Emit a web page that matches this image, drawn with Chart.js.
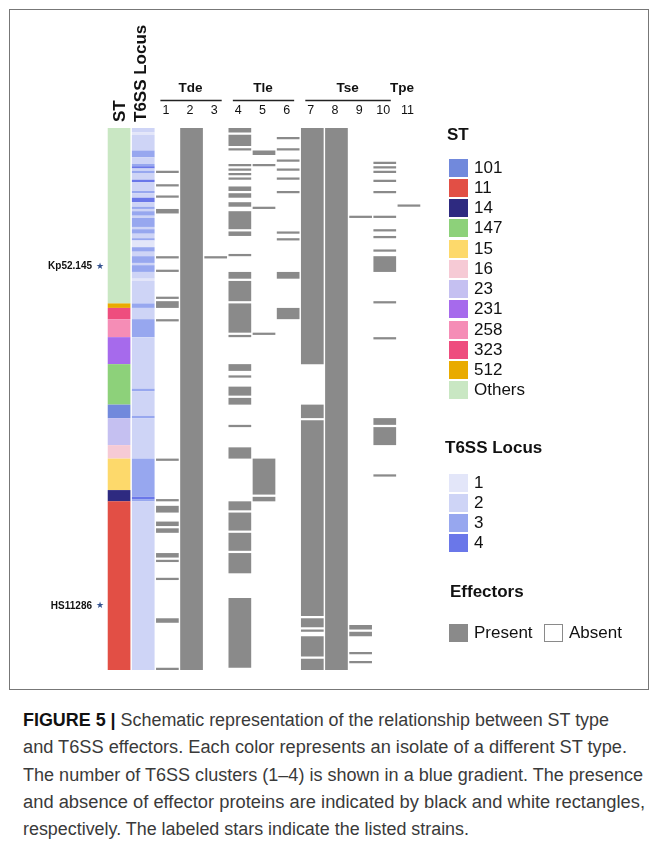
<!DOCTYPE html>
<html>
<head>
<meta charset="utf-8">
<script src="https://cdn.jsdelivr.net/npm/chart.js@4.4.1/dist/chart.umd.min.js"></script>
<style>
  html, body { margin: 0; padding: 0; background: #fff; }
  body { width: 657px; height: 841px; position: relative; overflow: hidden;
         font-family: "Liberation Sans", Arial, Helvetica, sans-serif; color: #111; }
  #frame { position: absolute; left: 9px; top: 9px; width: 640px; height: 681px;
           border: 1px solid #777; box-sizing: border-box; }
  #plot { position: absolute; left: 0; top: 0; }
  .lg-title { position: absolute; font-weight: bold; font-size: 17px; line-height: 20px; white-space: nowrap; }
  .lg-item { position: absolute; height: 19px; display: flex; align-items: center; white-space: nowrap; font-size: 17px; }
  .lg-sw { width: 19px; height: 18px; margin-right: 6px; box-sizing: border-box; flex: none; }
  #caption { position: absolute; left: 23px; top: 707px; font-size: 18px; line-height: 27.3px; color: #3a3a3a;
             font-family: "Liberation Sans Narrow", "Liberation Sans", Arial, sans-serif; }
  .cap-line { display: block; white-space: nowrap; width: max-content; transform-origin: 0 0; }
  .cap-line b { color: #111; }
</style>
</head>
<body>
<div id="frame"></div>
<canvas id="plot" width="657" height="690"></canvas>
<div id="legend"></div>
<div id="caption">
  <span class="cap-line" data-w="586"><b>FIGURE 5 |</b> Schematic representation of the relationship between ST type</span>
  <span class="cap-line" data-w="604">and T6SS effectors. Each color represents an isolate of a different ST type.</span>
  <span class="cap-line" data-w="620">The number of T6SS clusters (1–4) is shown in a blue gradient. The presence</span>
  <span class="cap-line" data-w="622">and absence of effector proteins are indicated by black and white rectangles,</span>
  <span class="cap-line" data-w="446">respectively. The labeled stars indicate the listed strains.</span>
</div>
<script>
// ---- heatmap columns and isolates (rows ordered top to bottom) ----
const columns = ['ST', 'T6SS Locus', '1', '2', '3', '4', '5', '6', '7', '8', '9', '10', '11'];
const isolateCount = 241;

// effector families spanning the numbered columns
const groupNames = ['Tde', 'Tle', 'Tse', 'Tpe'];
const groupFirst = ['1', '4', '7', '11'];
const groupLast  = ['3', '6', '10', '11'];

// sequence types
const stTypes  = ['101', '11', '14', '147', '15', '16', '23', '231', '258', '323', '512', 'Others'];
const stColors = ['#7189dc', '#e24f45', '#2e2a80', '#8dd17a', '#fdd96b', '#f6cad5',
                  '#c5c0f1', '#a66aec', '#f58db6', '#ee4d7e', '#e9ab00', '#c9e7c3'];
// [ST, first row, end row)
const stRuns = [
  ['Others', 0, 78], ['512', 78, 80], ['323', 80, 85], ['258', 85, 93], ['231', 93, 105],
  ['147', 105, 123], ['101', 123, 129], ['23', 129, 141], ['16', 141, 147], ['15', 147, 161],
  ['14', 161, 166], ['11', 166, 241]
];

// number of T6SS loci per isolate
const locusLevels = ['1', '2', '3', '4'];
const locusColors = ['#e3e6f9', '#ced4f6', '#97a7ef', '#6a77e9'];
// [first row, end row, loci]
const locusRuns = [
  [0, 2, 2], [2, 3, 1], [3, 10, 2], [10, 13, 3], [13, 16, 2], [16, 17, 3], [17, 18, 4], [18, 19, 2],
  [19, 20, 3], [20, 23, 2], [23, 24, 4], [24, 28, 2], [28, 29, 3], [29, 31, 2], [31, 33, 4], [33, 35, 2],
  [35, 36, 3], [36, 37, 2], [37, 39, 3], [39, 40, 2], [40, 44, 3], [44, 45, 2], [45, 47, 3], [47, 49, 2],
  [49, 50, 3], [50, 53, 1], [53, 55, 3], [55, 57, 2], [57, 60, 3], [60, 61, 2], [61, 64, 3], [64, 67, 2],
  [67, 68, 1], [68, 78, 2], [78, 80, 3], [80, 85, 2], [85, 93, 3], [93, 116, 2], [116, 117, 3],
  [117, 128, 2], [128, 129, 3], [129, 147, 2], [147, 164, 3], [164, 165, 4], [165, 166, 3], [166, 241, 2]
];

// effector presence, [first row, end row) for each numbered column
const eff1 = [[19, 20], [25, 26], [30, 31], [36, 38], [57, 58], [63, 64], [75, 76], [77, 80], [85, 86],
              [147, 148], [165, 166], [168, 171], [175, 177], [178, 180], [189, 191], [192, 193],
              [200, 201], [218, 220], [240, 241]];
const eff2 = [[0, 241]];
const eff3 = [[57, 58]];
const eff4 = [[0, 2], [3, 8], [9, 10], [16, 17], [18, 19], [20, 21], [22, 23], [26, 28], [29, 31], [33, 35],
              [37, 45], [46, 48], [56, 57], [64, 67], [68, 77], [78, 91], [92, 93], [105, 108], [110, 111],
              [115, 119], [120, 123], [132, 133], [142, 147], [166, 170], [171, 179], [180, 188],
              [189, 198], [209, 240]];
const eff5 = [[10, 12], [16, 17], [35, 36], [91, 92], [147, 163], [164, 166]];
const eff6 = [[4, 5], [9, 10], [14, 15], [18, 19], [22, 23], [28, 29], [46, 47], [49, 50], [64, 67], [80, 85]];
const eff7 = [[0, 105], [123, 129], [130, 217], [218, 222], [223, 224], [226, 235], [236, 241]];
const eff8 = [[0, 241]];
const eff9 = [[39, 40], [221, 223], [224, 226], [233, 234], [237, 238]];
const eff10 = [[15, 16], [17, 18], [19, 20], [23, 24], [28, 29], [39, 40], [45, 46], [48, 49], [54, 55],
               [57, 64], [77, 78], [93, 94], [129, 132], [133, 141], [154, 155]];
const eff11 = [[34, 35]];
const effectorCols = [eff1, eff2, eff3, eff4, eff5, eff6, eff7, eff8, eff9, eff10, eff11];
const presentColor = '#8a8a8a';

// starred reference strains
const strainNames = ['Kp52.145', 'HS11286'];
const strainRows  = [61, 212];

// ---- datasets: every cell run is a floating bar on the row axis ----
const stData = stRuns.map(([t, a, b]) => ({ x: 'ST', y: [a, b] }));
const stFill = stRuns.map(([t]) => stColors[stTypes.indexOf(t)]);
const locusData = locusRuns.map(([a, b]) => ({ x: 'T6SS Locus', y: [a, b] }));
const locusFill = locusRuns.map(([, , l]) => locusColors[locusLevels.indexOf(String(l))]);
const effData = effectorCols.flatMap((runs, i) => runs.map(([a, b]) => ({ x: String(i + 1), y: [a, b] })));

const FONT = '"Liberation Sans", Arial, sans-serif';

const headerPlugin = {
  id: 'heatHeaders',
  afterDraw(chart) {
    const { ctx, scales: { x, y }, chartArea } = chart;
    const cx = (lab) => x.getPixelForValue(columns.indexOf(lab));
    ctx.save();
    ctx.fillStyle = '#111';
    ctx.strokeStyle = '#222';

    // rotated headers for the first two columns
    ctx.font = 'bold 17px ' + FONT;
    ctx.textAlign = 'left';
    ctx.textBaseline = 'alphabetic';
    [['ST', 6], ['T6SS Locus', 3]].forEach(([lab, dx]) => {
      ctx.save();
      ctx.translate(cx(lab) + dx, chartArea.top - 6);
      ctx.rotate(-Math.PI / 2);
      ctx.fillText(lab, 0, 0);
      ctx.restore();
    });

    // column numbers
    ctx.font = '12.5px ' + FONT;
    ctx.textAlign = 'center';
    columns.slice(2).forEach(lab => ctx.fillText(lab, cx(lab) - 1.5, chartArea.top - 14));

    // family names with spanning rules
    ctx.font = 'bold 13.5px ' + FONT;
    groupNames.forEach((g, i) => {
      const a = cx(groupFirst[i]), b = cx(groupLast[i]);
      const single = groupFirst[i] === groupLast[i];
      ctx.fillText(g, (a + b) / 2 - (single ? 7 : 1), chartArea.top - 36);
      if (!single) {
        ctx.lineWidth = 1.3;
        ctx.beginPath();
        ctx.moveTo(a - 7, chartArea.top - 27.5);
        ctx.lineTo(b + 6, chartArea.top - 27.5);
        ctx.stroke();
      }
    });

    // starred strains
    strainNames.forEach((n, i) => {
      const py = y.getPixelForValue(strainRows[i] + 0.5);
      ctx.font = 'bold 10px ' + FONT;
      ctx.textAlign = 'right';
      ctx.textBaseline = 'middle';
      ctx.fillStyle = '#111';
      ctx.fillText(n, chartArea.left - 15, py);
      ctx.font = '9px "DejaVu Sans", sans-serif';
      ctx.textAlign = 'center';
      ctx.fillStyle = '#34528f';
      ctx.fillText('★', chartArea.left - 7, py);
    });
    ctx.restore();
  }
};

new Chart(document.getElementById('plot'), {
  type: 'bar',
  data: {
    labels: columns,
    datasets: [
      { label: 'ST', data: stData, backgroundColor: stFill },
      { label: 'T6SS Locus', data: locusData, backgroundColor: locusFill },
      { label: 'Effectors', data: effData, backgroundColor: presentColor }
    ]
  },
  options: {
    responsive: false,
    animation: false,
    events: [],
    layout: { padding: { left: 107, top: 128, right: 236, bottom: 20 } },
    datasets: {
      bar: { grouped: false, categoryPercentage: 1, barPercentage: 0.94,
             borderWidth: 0, borderSkipped: false }
    },
    plugins: { legend: { display: false }, tooltip: { enabled: false } },
    scales: {
      x: { type: 'category', display: false, offset: true },
      y: { type: 'linear', display: false, min: 0, max: isolateCount, reverse: true }
    }
  },
  plugins: [headerPlugin]
});

// ---- legend ----
const legend = document.getElementById('legend');
function addTitle(text, left, top) {
  const d = document.createElement('div');
  d.className = 'lg-title'; d.textContent = text;
  d.style.left = left + 'px'; d.style.top = top + 'px';
  legend.appendChild(d);
}
function addItem(text, color, left, top, border) {
  const d = document.createElement('div');
  d.className = 'lg-item';
  d.style.left = left + 'px'; d.style.top = top + 'px';
  const s = document.createElement('span');
  s.className = 'lg-sw'; s.style.background = color;
  if (border) s.style.border = '1px solid ' + border;
  d.appendChild(s);
  d.appendChild(document.createTextNode(text));
  legend.appendChild(d);
}
addTitle('ST', 447, 125);
stTypes.forEach((t, i) => addItem(t, stColors[i], 449, 158 + i * 20.25));
addTitle('T6SS Locus', 445, 438);
locusLevels.forEach((l, i) => addItem(l, locusColors[i], 449, 473 + i * 20));
addTitle('Effectors', 450, 582);
addItem('Present', presentColor, 449, 623);
addItem('Absent', '#ffffff', 544, 623, '#8a8a8a');

// ---- caption lines fitted to their set widths ----
document.querySelectorAll('.cap-line').forEach(el => {
  const w = el.getBoundingClientRect().width;
  el.style.transform = 'scaleX(' + (+el.dataset.w / w) + ')';
});
</script>
</body>
</html>
